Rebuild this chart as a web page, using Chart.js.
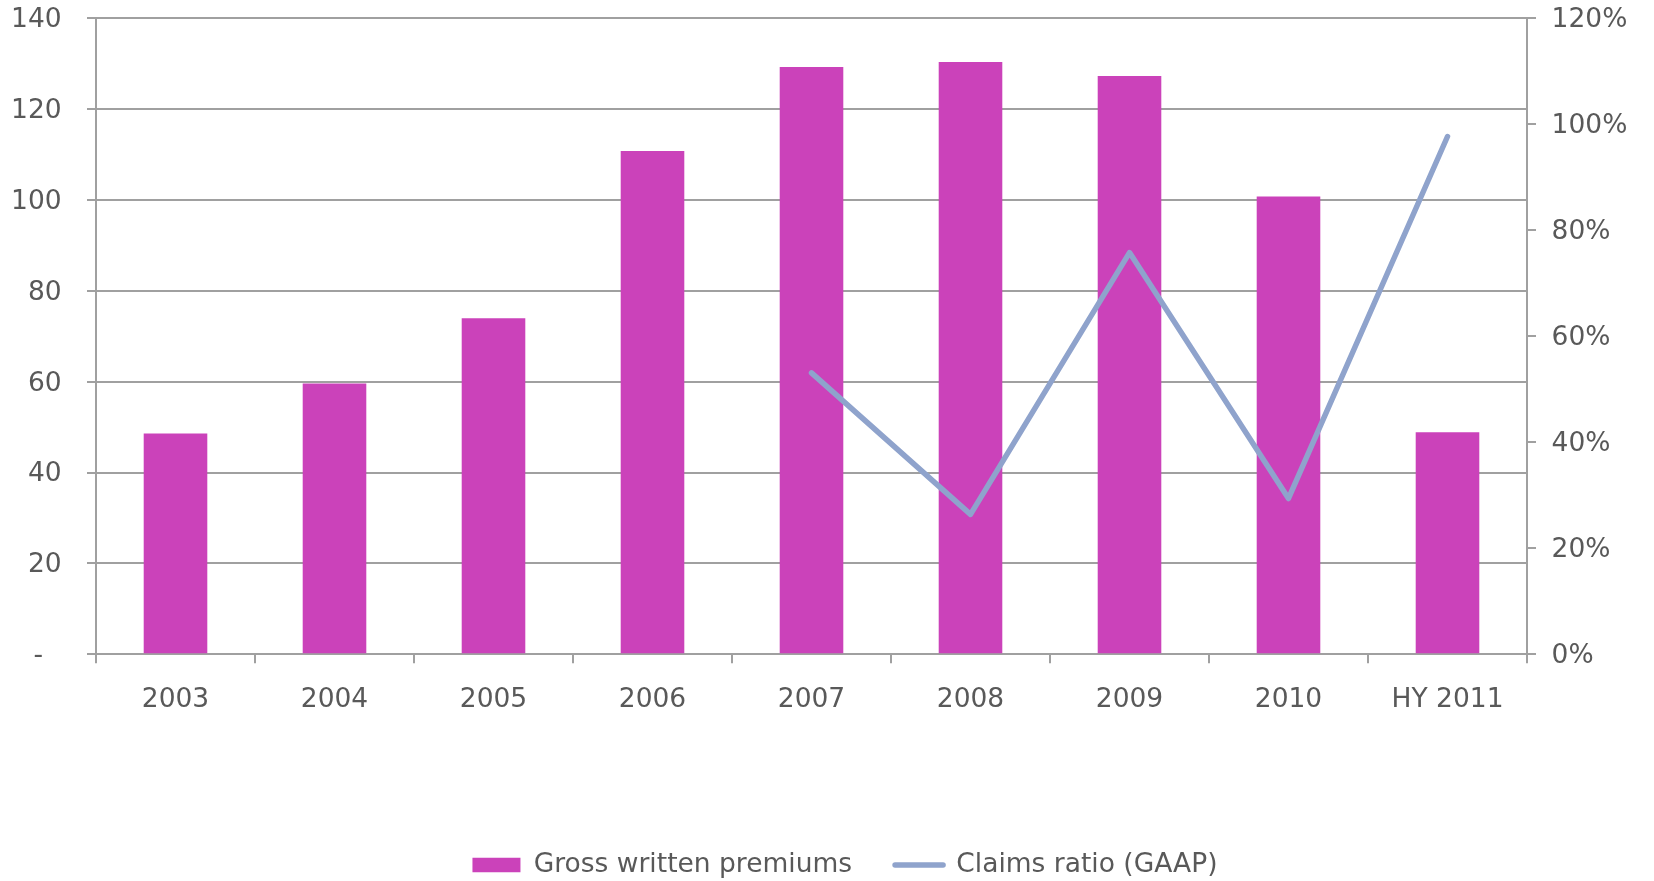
<!DOCTYPE html>
<html>
<head>
<meta charset="utf-8">
<script src="https://cdn.jsdelivr.net/npm/chart.js@4/dist/chart.umd.min.js"></script>
<style>
  html, body { margin: 0; padding: 0; background: #ffffff; }
  #wrap { width: 1654px; height: 881px; }
</style>
</head>
<body>
<div id="wrap"><canvas id="c" width="1654" height="881"></canvas></div>
<script>
const categories = ['2003', '2004', '2005', '2006', '2007', '2008', '2009', '2010', 'HY 2011'];
const grossWrittenPremiums = [48.6, 59.6, 74.0, 110.8, 129.3, 130.4, 127.3, 100.8, 48.9];
const claimsRatio = [null, null, null, null, 53.1, 26.4, 75.8, 29.4, 97.7];
const leftTicks = [0, 20, 40, 60, 80, 100, 120, 140];
const rightTicks = [0, 20, 40, 60, 80, 100, 120];

const BAR_COLOR = 'rgb(203,66,186)';
const LINE_COLOR = 'rgb(143,163,204)';
const GRID = '#a0a0a0';
const TEXT = '#595959';
const FONT = { family: 'DejaVu Sans', size: 26.5 };

const LEGEND_PAD = 45;
const LEGEND_H = LEGEND_PAD + 27.25;
const LEGEND_SHIFT = 18;

const legendTweak = {
  id: 'legendTweak',
  beforeLayout(chart) {
    const lg = chart.legend;
    if (lg && !lg._tweaked) {
      const orig = lg.fit;
      lg.fit = function () { orig.call(this); this.height = LEGEND_H; };
      lg._tweaked = true;
    }
  },
  afterLayout(chart) {
    const lg = chart.legend;
    if (lg) { lg.left += LEGEND_SHIFT; lg.right += LEGEND_SHIFT; }
  }
};

Chart.defaults.font.family = FONT.family;
Chart.defaults.font.size = FONT.size;
Chart.defaults.color = TEXT;

new Chart(document.getElementById('c'), {
  data: {
    labels: categories,
    datasets: [
      {
        type: 'bar',
        label: 'Gross written premiums',
        data: grossWrittenPremiums,
        backgroundColor: BAR_COLOR,
        borderWidth: 0,
        barPercentage: 0.4,
        categoryPercentage: 1.0,
        yAxisID: 'y',
        order: 2
      },
      {
        type: 'line',
        label: 'Claims ratio (GAAP)',
        data: claimsRatio,
        borderColor: LINE_COLOR,
        backgroundColor: LINE_COLOR,
        borderWidth: 5.5,
        pointRadius: 0,
        pointHoverRadius: 0,
        tension: 0,
        spanGaps: false,
        borderCapStyle: 'round',
        borderJoinStyle: 'round',
        yAxisID: 'y1',
        order: 1
      }
    ]
  },
  options: {
    responsive: false,
    animation: false,
    devicePixelRatio: 1,
    layout: { padding: { top: 18.3, left: 0, right: 0, bottom: 0 } },
    plugins: {
      tooltip: { enabled: false },
      legend: {
        position: 'bottom',
        align: 'center',
        labels: {
          usePointStyle: true,
          pointStyleWidth: 48,
          boxHeight: 14.5,
          padding: LEGEND_PAD - 2,
          color: TEXT,
          font: FONT,
          generateLabels(chart) {
            const items = Chart.defaults.plugins.legend.labels.generateLabels(chart);
            items.sort((a, b) => a.datasetIndex - b.datasetIndex);
            items.forEach(it => {
              if (it.datasetIndex === 0) {
                it.pointStyle = 'rect';
                it.fillStyle = BAR_COLOR;
                it.strokeStyle = BAR_COLOR;
                it.lineWidth = 0;
              } else {
                it.pointStyle = 'line';
                it.strokeStyle = LINE_COLOR;
                it.lineWidth = 5.5;
                it.lineCap = 'round';
              }
            });
            return items;
          }
        }
      }
    },
    scales: {
      x: {
        type: 'category',
        offset: true,
        grid: {
          offset: true,
          drawOnChartArea: false,
          drawTicks: true,
          tickLength: 9,
          color: GRID,
          lineWidth: 2
        },
        border: { display: true, color: GRID, width: 2 },
        ticks: { padding: 21, color: TEXT, font: FONT, maxRotation: 0, autoSkip: false },
        afterFit(scale) { scale.height = 881 - LEGEND_H - 654.3; }
      },
      y: {
        type: 'linear',
        position: 'left',
        min: 0,
        max: 140,
        afterBuildTicks(scale) { scale.ticks = leftTicks.map(v => ({ value: v })); },
        grid: { color: GRID, lineWidth: 2, drawTicks: true, tickLength: 9 },
        border: { display: true, color: GRID, width: 2 },
        ticks: {
          padding: 25.4,
          labelOffset: 2,
          color: TEXT,
          font: FONT,
          callback: v => (v === 0 ? '-\u2002\u2009' : String(v))
        },
        afterFit(scale) { scale.width = 96; scale.paddingTop = 0; scale.paddingBottom = 0; }
      },
      y1: {
        type: 'linear',
        position: 'right',
        min: 0,
        max: 120,
        afterBuildTicks(scale) { scale.ticks = rightTicks.map(v => ({ value: v })); },
        grid: { drawOnChartArea: false, color: GRID, lineWidth: 2, drawTicks: true, tickLength: 9 },
        border: { display: true, color: GRID, width: 2 },
        ticks: { padding: 15.6, labelOffset: 2, color: TEXT, font: FONT, callback: v => v + '%' },
        afterFit(scale) { scale.width = 1654 - 1527; scale.paddingTop = 0; scale.paddingBottom = 0; }
      }
    }
  },
  plugins: [legendTweak]
});
</script>
</body>
</html>
